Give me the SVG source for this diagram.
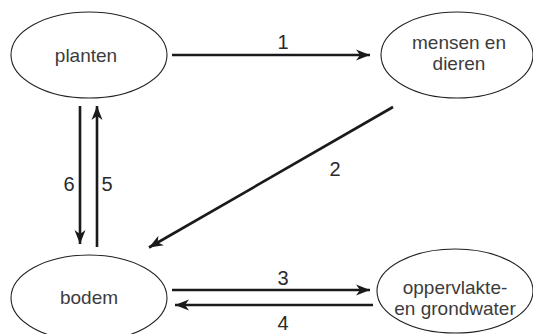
<svg xmlns="http://www.w3.org/2000/svg" width="533" height="334" viewBox="0 0 533 334">
<style>
.node ellipse{fill:#fff;stroke:#222;stroke-width:1.1}
.lbl{font-family:"Liberation Sans",Arial,sans-serif;font-size:19px;fill:#3c3c3c;text-anchor:middle}
.num{font-family:"Liberation Sans",Arial,sans-serif;font-size:20px;fill:#2a2a2a;text-anchor:middle}
.edge{stroke:#1a1a1a;stroke-width:2.6;fill:none}
</style>
<defs>
<marker id="ah" markerUnits="userSpaceOnUse" viewBox="-14 -6 15 12" refX="0" refY="0" markerWidth="15" markerHeight="12" orient="auto">
<path d="M0,0 L-14,-5.5 L-10,0 L-14,5.5 Z" fill="#1a1a1a"/>
</marker>
</defs>
<rect width="533" height="334" fill="#fff"/>
<g id="planten" class="node">
<ellipse cx="89" cy="55" rx="78" ry="43"/>
<text class="lbl" x="86" y="62">planten</text>
</g>
<g id="mensen" class="node">
<ellipse cx="457" cy="55" rx="76" ry="43"/>
<text class="lbl" x="459" y="49">mensen en</text>
<text class="lbl" x="459" y="70">dieren</text>
</g>
<g id="bodem" class="node">
<ellipse cx="89" cy="298" rx="78" ry="43"/>
<text class="lbl" x="89" y="304">bodem</text>
</g>
<g id="water" class="node">
<ellipse cx="455" cy="291" rx="78" ry="42"/>
<text class="lbl" x="455" y="294">oppervlakte-</text>
<text class="lbl" x="455" y="315">en grondwater</text>
</g>
<g id="connectors">
<line class="edge" x1="172" y1="55" x2="370" y2="55" marker-end="url(#ah)"/>
<line class="edge" x1="393" y1="107" x2="149" y2="247.5" marker-end="url(#ah)"/>
<line class="edge" x1="172" y1="290" x2="370" y2="290" marker-end="url(#ah)"/>
<line class="edge" x1="373" y1="305" x2="175" y2="305" marker-end="url(#ah)"/>
<line class="edge" x1="80" y1="106" x2="80" y2="244" marker-end="url(#ah)"/>
<line class="edge" x1="97" y1="247" x2="97" y2="106" marker-end="url(#ah)"/>
<text class="num" x="283" y="49">1</text>
<text class="num" x="335" y="176">2</text>
<text class="num" x="283" y="285">3</text>
<text class="num" x="283" y="330">4</text>
<text class="num" x="69" y="191">6</text>
<text class="num" x="107" y="191">5</text>
</g>
</svg>
